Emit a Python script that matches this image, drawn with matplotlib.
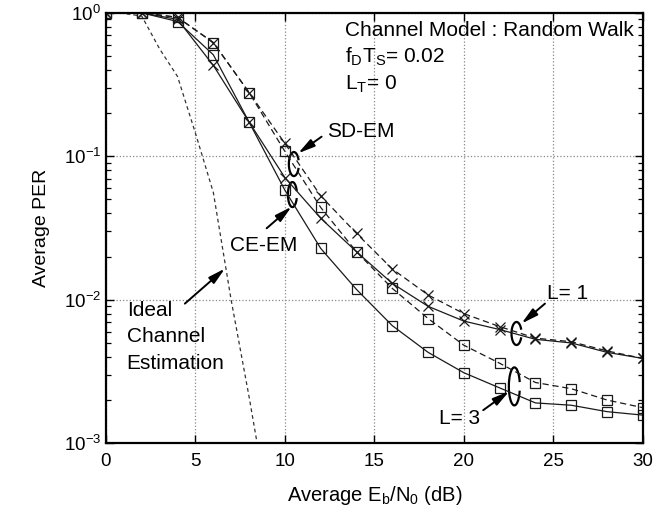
import matplotlib
matplotlib.use("Agg")
import matplotlib.pyplot as plt
from matplotlib.patches import Arc

plt.rcParams['font.family'] = ['Liberation Sans', 'DejaVu Sans']
plt.rcParams['mathtext.fontset'] = 'custom'
plt.rcParams['mathtext.rm'] = 'Liberation Sans'
plt.rcParams['mathtext.it'] = 'Liberation Sans:italic'
plt.rcParams['mathtext.bf'] = 'Liberation Sans:bold'

# Eb/N0 (dB)
snr = [0, 2, 4, 6, 8, 10, 12, 14, 16, 18, 20, 22, 24, 26, 28, 30]

# average PER
sd_em_l1 = [1.0, 1.0, 0.93, 0.62, 0.278, 0.123, 0.053, 0.029, 0.0164, 0.0108,
            0.0080, 0.0065, 0.0054, 0.0051, 0.0044, 0.0039]
ce_em_l1 = [1.0, 1.0, 0.90, 0.43, 0.173, 0.071, 0.037, 0.0216, 0.013, 0.0090,
            0.0071, 0.0062, 0.0053, 0.0050, 0.0043, 0.0039]
sd_em_l3 = [1.0, 1.0, 0.93, 0.62, 0.278, 0.108, 0.044, 0.0216, 0.012, 0.0074,
            0.00482, 0.00361, 0.00265, 0.0024, 0.0020, 0.00177]
ce_em_l3 = [1.0, 1.0, 0.87, 0.51, 0.173, 0.058, 0.0228, 0.0118, 0.0066, 0.0043,
            0.0031, 0.00243, 0.00191, 0.00184, 0.00166, 0.00157]

# ideal channel estimation (1 dB steps)
snr_ideal = [0, 1, 2, 3, 4, 5, 6, 7, 8, 9]
ideal = [1.0, 0.99, 0.95, 0.56, 0.36, 0.145, 0.056, 0.0099, 0.0021, 0.0004]

fig = plt.figure(figsize=(6.58, 5.13), dpi=100)
ax = fig.add_axes([0.161, 0.136, 0.816, 0.839])

lc = '#1a1a1a'
ax.plot(snr_ideal, ideal, color='#333333', lw=0.9, dashes=(3, 2.5))
ax.plot(snr, sd_em_l1, color=lc, lw=0.9, dashes=(5, 3), marker='x', ms=7, mew=0.9)
ax.plot(snr, ce_em_l1, color=lc, lw=0.9, marker='x', ms=7, mew=0.9)
ax.plot(snr, sd_em_l3, color=lc, lw=0.9, dashes=(5, 3), marker='s', ms=6.5,
        mfc='none', mew=0.9)
ax.plot(snr, ce_em_l3, color=lc, lw=0.9, marker='s', ms=6.5, mfc='none', mew=0.9)

ax.set_yscale('log')
ax.set_xlim(0, 30)
ax.set_ylim(1e-3, 1)
ax.set_xticks([0, 5, 10, 15, 20, 25, 30])
ax.grid(True, which='major', ls=':', color='#888888', lw=0.9)
ax.tick_params(which='both', direction='in', top=True, right=True, labelsize=13.5)
ax.tick_params(which='major', length=6, width=1)
ax.tick_params(which='minor', length=3.5, width=0.9)
ax.tick_params(axis='x', which='minor', bottom=False, top=False)
ax.tick_params(axis='x', pad=7)
for sp in ax.spines.values():
    sp.set_linewidth(1.6)

ax.set_xlabel(r'Average E$_\mathregular{b}$/N$_\mathregular{0}$ (dB)', fontsize=14.5, labelpad=10)
ax.set_ylabel('Average PER', fontsize=14, labelpad=10)

fs = 15
# top-right info text
t1 = ax.text(29.5, 0.757, 'Channel Model : Random Walk', fontsize=fs,
             ha='right', va='center')
fig.canvas.draw()
bb = t1.get_window_extent()
x_left = ax.transData.inverted().transform((bb.x0, bb.y0))[0]
ax.text(x_left, 0.49, r'f$_\mathregular{D}$T$_\mathregular{S}$= 0.02', fontsize=fs,
        ha='left', va='center')
ax.text(x_left, 0.315, r'L$_\mathregular{T}$= 0', fontsize=fs, ha='left', va='center')


def ellipse(xc, yc, w_px, h_px):
    # C-shaped open ellipse drawn around a bundle of curves
    cx, cy = ax.transAxes.inverted().transform(ax.transData.transform((xc, yc)))
    bbox = ax.get_window_extent()
    arc = Arc((cx, cy), w_px / bbox.width, h_px / bbox.height, theta1=45,
              theta2=315, transform=ax.transAxes, color='k', lw=1.6)
    ax.add_patch(arc)


arrow = dict(arrowstyle='-|>,head_length=1.0,head_width=0.25', color='k', lw=1.4,
             shrinkA=0, shrinkB=0)

ellipse(10.5, 0.0883, 10, 24)
ellipse(10.42, 0.0541, 9, 25)
ellipse(22.94, 0.00582, 10, 23)
ellipse(22.82, 0.00249, 11, 38)

ax.annotate('', xy=(10.74, 0.105), xytext=(12.05, 0.137), arrowprops=arrow)
ax.text(12.33, 0.149, 'SD-EM', fontsize=fs, ha='left', va='center')

ax.annotate('', xy=(10.37, 0.0445), xytext=(8.98, 0.0315), arrowprops=arrow)
ax.text(8.83, 0.024, 'CE-EM', fontsize=fs, ha='center', va='center')

ax.annotate('', xy=(6.65, 0.0165), xytext=(4.41, 0.0094), arrowprops=arrow)
for txt, yv in zip(['Ideal', 'Channel', 'Estimation'], [0.00846, 0.00551, 0.00359]):
    ax.text(1.16, yv, txt, fontsize=fs, ha='left', va='center')

ax.annotate('', xy=(23.22, 0.00683), xytext=(24.53, 0.0094), arrowprops=arrow)
ax.text(24.62, 0.01107, 'L= 1', fontsize=fs, ha='left', va='center')

ax.annotate('', xy=(22.53, 0.0023), xytext=(21.08, 0.0017), arrowprops=arrow)
ax.text(20.9, 0.00149, 'L= 3', fontsize=fs, ha='right', va='center')

fig.savefig('out.png', dpi=100)
